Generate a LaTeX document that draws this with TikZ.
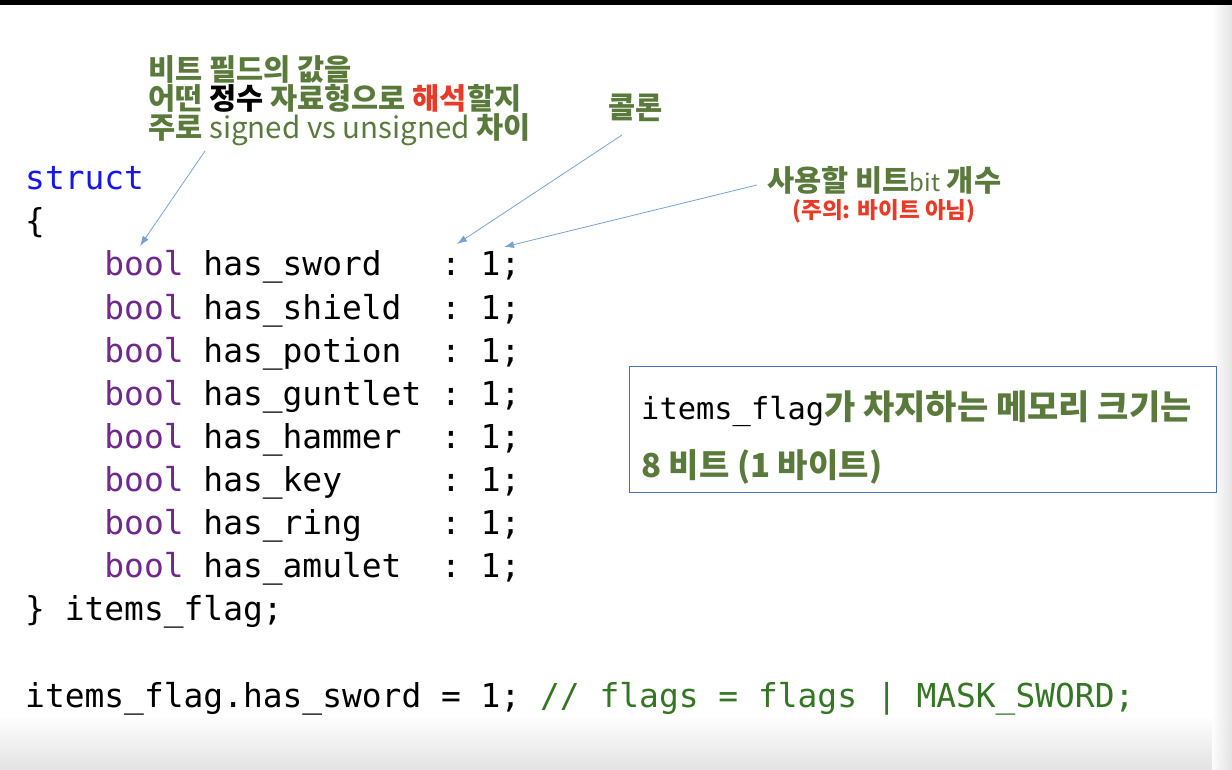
\documentclass[tikz,border=0pt]{standalone}
\usepackage{fontspec}
\setmonofont{DejaVu Sans Mono}
\newfontfamily\kr{Noto Sans CJK KR}
\usetikzlibrary{arrows.meta}
\definecolor{annG}{RGB}{90,122,60}
\definecolor{annR}{RGB}{232,58,38}
\definecolor{cmtG}{RGB}{52,118,36}
\definecolor{kwP}{RGB}{112,40,140}
\definecolor{kwB}{RGB}{22,22,235}
\definecolor{arrB}{RGB}{120,162,212}
\definecolor{boxB}{RGB}{72,112,190}
\definecolor{shadeG}{RGB}{226,226,226}
\tikzset{
  code/.style={anchor=base west, inner sep=0pt, font=\ttfamily\fontsize{32.9}{36}\selectfont, text=black},
  boxcode/.style={anchor=base west, inner sep=0pt, font=\ttfamily\fontsize{30.4}{34}\selectfont, text=black},
  ann/.style={anchor=base west, inner sep=0pt, font=\kr\bfseries\fontsize{29.5}{32}\selectfont, text=annG},
  note/.style={anchor=base, inner sep=0pt, font=\kr\bfseries\fontsize{22.5}{25}\selectfont, text=annR},
  pointer/.style={draw=arrB, line width=0.8pt, -{Latex[length=10pt,width=7pt]}},
  infobox/.style={draw=boxB, line width=1pt, fill=white}
}
\newcommand{\kwb}[1]{\textcolor{kwP}{#1}}
\begin{document}
\begin{tikzpicture}[x=1pt,y=-1pt]
\useasboundingbox (0,0) rectangle (1232,770);
% background
\fill[white] (0,0) rectangle (1232,770);
\shade[top color=white, bottom color=shadeG] (0,715) rectangle (1232,770);
\shade[left color=white, right color=shadeG, opacity=0.9] (1212,0) rectangle (1232,770);
\fill[black] (0,0) rectangle (1232,5);

% code
\node[code] (lstruct) at (25,190) {\textcolor{kwB}{struct}};
\node[code] (lopen) at (25,233) {\{};
\node[code] (l1) at (25,276) {\ \ \ \ \kwb{bool} has\_sword\ \ \ : 1;};
\node[code] (l2) at (25,319.1) {\ \ \ \ \kwb{bool} has\_shield\ \ : 1;};
\node[code] (l3) at (25,362.2) {\ \ \ \ \kwb{bool} has\_potion\ \ : 1;};
\node[code] (l4) at (25,405.3) {\ \ \ \ \kwb{bool} has\_guntlet : 1;};
\node[code] (l5) at (25,448.4) {\ \ \ \ \kwb{bool} has\_hammer\ \ : 1;};
\node[code] (l6) at (25,491.5) {\ \ \ \ \kwb{bool} has\_key\ \ \ \ \ : 1;};
\node[code] (l7) at (25,534.6) {\ \ \ \ \kwb{bool} has\_ring\ \ \ \ : 1;};
\node[code] (l8) at (25,577.7) {\ \ \ \ \kwb{bool} has\_amulet\ \ : 1;};
\node[code] (lclose) at (25,620.8) {\} items\_flag;};
\node[code] (lassign) at (25,707) {items\_flag.has\_sword = 1; \textcolor{cmtG}{// flags = flags | MASK\_SWORD;}};

% annotation top-left
\node[ann] (a1) at (148,81) {비트 필드의 값을};
\node[ann] (a2) at (148,110) {어떤 \textcolor{black}{정수} 자료형으로 \textcolor{annR}{해석}할지};
\node[ann] (a3) at (148,139) {주로 {\mdseries signed vs unsigned} 차이};

% colon label
\node[ann] (colon) at (608,119) {콜론};

% bit count label
\node[ann] (bits) at (767,192) {사용할 비트{\mdseries\fontsize{24}{26}\selectfont bit} 개수};
\node[note] (warn) at (884,219) {(주의: 바이트 아님)};

% arrows
\coordinate (s1) at (205,151);
\coordinate (t1) at (140,246);
\coordinate (s2) at (622,135);
\coordinate (t2) at (457,244);
\coordinate (s3) at (757,185);
\coordinate (t3) at (504,247);
\draw[pointer] (s1) -- (t1);
\draw[pointer] (s2) -- (t2);
\draw[pointer] (s3) -- (t3);

% info box
\node[infobox, minimum width=587pt, minimum height=126pt, anchor=north west] (box) at (629,366) {};
\node[boxcode] (b1) at (641,419) {items\_flag{\kr\bfseries\fontsize{34}{36}\selectfont\textcolor{annG}{가 차지하는 메모리 크기는}}};
\node[ann, font=\kr\bfseries\fontsize{33}{36}\selectfont] (b2) at (641,477) {8 비트 (1 바이트)};
\end{tikzpicture}
\end{document}
